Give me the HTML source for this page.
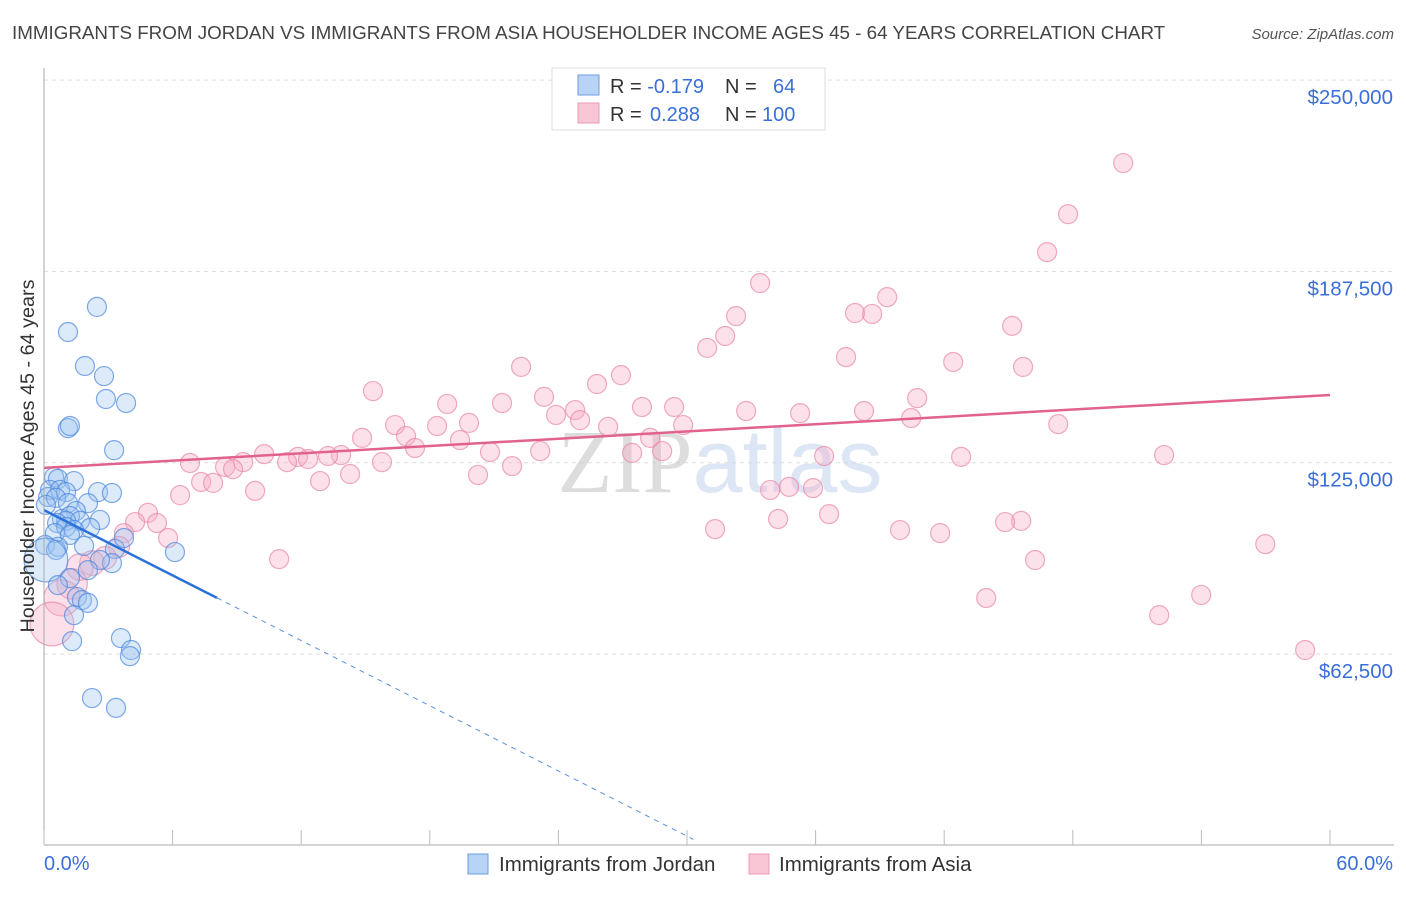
<!DOCTYPE html>
<html><head><meta charset="utf-8"><style>
body{margin:0;background:#fff;font-family:"Liberation Sans",sans-serif}
svg text{font-family:"Liberation Sans",sans-serif}
</style></head><body>
<svg id="chart" width="1406" height="892" viewBox="0 0 1406 892" xmlns="http://www.w3.org/2000/svg">
<text x="12" y="39" font-size="18.8" fill="#444">IMMIGRANTS FROM JORDAN VS IMMIGRANTS FROM ASIA HOUSEHOLDER INCOME AGES 45 - 64 YEARS CORRELATION CHART</text>
<text x="1394" y="39" font-size="15" fill="#555" text-anchor="end" font-style="italic">Source: ZipAtlas.com</text>
<g id="grid"></g>
<text x="720" y="492" font-size="90" text-anchor="middle" opacity="0.6"><tspan font-family="Liberation Serif" fill="#c8c8c8">ZIP</tspan><tspan fill="#c5d6ee">atlas</tspan></text>
<g id="pts"></g>
<g id="trend"></g>
<g id="axes"></g>
<text transform="translate(34,456) rotate(-90)" font-size="19.8" fill="#333" text-anchor="middle">Householder Income Ages 45 - 64 years</text>
<g>
<rect x="552" y="68" width="273" height="62" fill="#fff" stroke="#ddd"/>
<rect x="578" y="75" width="21" height="20" fill="#b8d3f5" stroke="#6e9fe0"/>
<rect x="578" y="103" width="21" height="20" fill="#f9c6d6" stroke="#ec9ab5"/>
<text x="610" y="93" font-size="20" fill="#333">R = <tspan fill="#3a6fd8">-0.179</tspan><tspan x="725">N = </tspan><tspan x="773" fill="#3a6fd8">64</tspan></text>
<text x="610" y="121" font-size="20" fill="#333">R = <tspan x="650" fill="#3a6fd8">0.288</tspan><tspan x="725">N = </tspan><tspan x="762" fill="#3a6fd8">100</tspan></text>
</g>
<g>
<rect x="468" y="854" width="20" height="20" fill="#b8d3f5" stroke="#6e9fe0"/>
<text x="499" y="871" font-size="20.5" fill="#333">Immigrants from Jordan</text>
<rect x="749" y="854" width="20" height="20" fill="#f9c6d6" stroke="#ec9ab5"/>
<text x="779" y="871" font-size="20.5" fill="#333">Immigrants from Asia</text>
</g>
</svg>
<script>
const yTickValues=[62500,125000,187500,250000];
const yTickLabels=["$62,500","$125,000","$187,500","$250,000"];
const xTickLabels=["0.0%","60.0%"];
const jordanX=[2.47,1.12,1.91,2.80,2.89,3.83,1.12,1.21,3.27,0.47,0.65,1.40,0.28,0.75,1.03,2.52,3.17,0.19,0.56,1.12,2.05,0.09,1.49,0.84,1.21,1.68,1.03,0.61,2.61,2.15,1.03,1.40,0.51,1.21,0.05,0.65,1.87,0.56,3.31,6.11,0.09,3.73,3.17,2.61,2.05,1.21,0.65,1.54,1.77,2.05,1.40,3.59,1.31,4.06,4.01,2.24,3.36];
const jordanY=[175.9,167.7,156.6,153.3,145.8,144.5,136.3,137.0,129.1,120.3,119.7,119.0,116.1,116.1,115.4,115.4,115.1,113.8,113.5,111.8,111.8,111.2,109.2,106.6,107.6,106.0,106.0,105.3,106.3,103.7,104.0,103.0,102.0,101.4,98.1,97.5,97.8,96.5,96.8,95.8,93.2,100.4,92.2,93.2,89.9,87.3,85.0,81.1,80.1,79.2,75.2,67.7,66.7,63.8,61.8,48.1,44.9];
const jordanW=[1,1,1,1,1,1,1,1,1,1,1,1,1,1,1,1,1,1,1,1,1,1,1,1,1,1,1,1,1,1,1,1,1,1,1,1,1,1,1,1,2.3,1,1,1,1,1,1,1,1,1,1,1,1,1,1,1,1];
const asiaX=[50.35,47.78,46.80,33.41,39.34,37.84,38.64,32.29,45.17,31.78,30.94,37.42,42.42,22.26,45.68,26.92,25.80,15.35,23.33,40.74,21.37,18.81,27.90,29.40,32.76,38.26,35.28,24.78,23.89,40.46,19.83,47.32,16.38,25.01,26.32,29.82,18.34,16.89,14.84,19.41,28.28,17.31,20.81,27.44,28.84,23.15,10.27,13.86,13.25,11.85,12.32,11.34,15.77,36.40,42.79,52.26,6.81,9.29,8.45,8.82,14.28,20.25,21.84,12.88,7.33,7.89,9.85,6.35,33.88,34.76,35.88,4.85,36.63,34.25,45.59,44.84,4.25,5.27,31.31,39.94,41.81,3.73,5.79,56.98,3.50,2.85,10.97,46.24,2.24,1.68,1.31,0.84,43.96,53.99,52.03,0.37,58.84];
const asiaY=[222.9,206.2,193.8,183.7,179.1,173.9,173.6,172.9,169.7,166.4,162.5,159.5,157.9,156.3,156.3,153.6,150.7,148.4,146.5,146.1,144.5,144.2,143.2,143.2,141.9,141.9,141.2,142.2,140.6,139.6,138.0,137.6,137.3,138.9,136.7,137.3,137.0,133.7,133.1,132.4,133.1,129.8,128.5,128.2,128.8,128.8,127.8,127.5,127.2,126.9,126.2,125.2,125.2,127.2,126.9,127.5,124.9,125.2,123.6,122.9,121.3,121.0,123.9,119.0,118.7,118.4,115.8,114.4,116.1,117.1,116.7,108.6,108.2,106.6,106.0,105.6,105.6,105.3,103.3,103.0,102.0,102.0,100.4,98.4,97.5,93.9,93.5,93.2,92.2,90.9,85.4,80.8,80.8,81.8,75.2,72.3,63.8];
const asiaW=[1,1,1,1,1,1,1,1,1,1,1,1,1,1,1,1,1,1,1,1,1,1,1,1,1,1,1,1,1,1,1,1,1,1,1,1,1,1,1,1,1,1,1,1,1,1,1,1,1,1,1,1,1,1,1,1,1,1,1,1,1,1,1,1,1,1,1,1,1,1,1,1,1,1,1,1,1,1,1,1,1,1,1,1,1.1,1.2,1,1,1.3,1.4,1.6,1.9,1,1,1,2.3,1];
const jordanTrend=[109.5,-3.55];
const asiaTrend=[123.3,0.397];

const NS="http://www.w3.org/2000/svg";
const X0=44,X1=1330,Y62=654,YPX=191.3;
function sx(p){return X0+p/60*(X1-X0);}
function sy(k){return Y62-(k*1000-62500)/62500*YPX;}
function mk(tag,attrs,parent){const e=document.createElementNS(NS,tag);for(const k in attrs)e.setAttribute(k,attrs[k]);parent.appendChild(e);return e;}
const grid=document.getElementById('grid'),axes=document.getElementById('axes'),pts=document.getElementById('pts'),trend=document.getElementById('trend');
yTickValues.forEach((v,i)=>{
  const y=sy(v/1000);
  const l=mk('line',{x1:44,x2:1394,y1:y,y2:y,stroke:'#ddd','stroke-dasharray':'4,4'},grid);
  
  
  const t=mk('text',{x:1393,y:y+24,'font-size':20.5,fill:'#3a6fd8','text-anchor':'end'},grid);
  
  
  t.textContent=yTickLabels[i];
});
const ax=mk('line',{x1:44,x2:1394,y1:845,y2:845,stroke:'#aaa'},axes);


const ay=mk('line',{x1:44,x2:44,y1:68,y2:845,stroke:'#aaa'},axes);


for(let p=0;p<=60;p+=6){
  const tk=mk('line',{x1:sx(p),x2:sx(p),y1:830,y2:845,stroke:'#bbb'},axes);
  
  
}
[[0,'start',44],[60,'end',1393]].forEach((a,i)=>{
  const t=mk('text',{x:a[2],y:870,'font-size':20,fill:'#3a6fd8','text-anchor':a[1]},axes);
  
  
  t.textContent=xTickLabels[i];
});
function drawPts(xs,ys,ws,fill,stroke,name){
  xs.forEach((x,i)=>{
    const c=mk('circle',{cx:sx(x),cy:sy(ys[i]),r:9.5*ws[i],fill:fill,'fill-opacity':0.35,stroke:stroke,'stroke-opacity':0.7,'stroke-width':1.2},pts);
    
    
  });
}
drawPts(asiaX,asiaY,asiaW,'#f7a8c2','#e886a8','asia-point');
drawPts(jordanX,jordanY,jordanW,'#9cc2f0','#4a86dd','jordan-point');
function tl(c,x0,x1,color,dash,name,w){
  const l=mk('line',{x1:sx(x0),y1:sy(c[0]+c[1]*x0),x2:sx(x1),y2:sy(c[0]+c[1]*x1),stroke:color,'stroke-width':w},trend);
  if(dash)l.setAttribute('stroke-dasharray',dash);
  
  
}
tl(asiaTrend,0,60,'#e2628f',null,'asia-trend-line',2.5);
tl(jordanTrend,0,8.07,'#2a72d8',null,'jordan-trend-line',2.5);
tl(jordanTrend,8.07,30.3,'#5a8fe0','5,5','jordan-trend-extension',1);
</script>
</body></html>
